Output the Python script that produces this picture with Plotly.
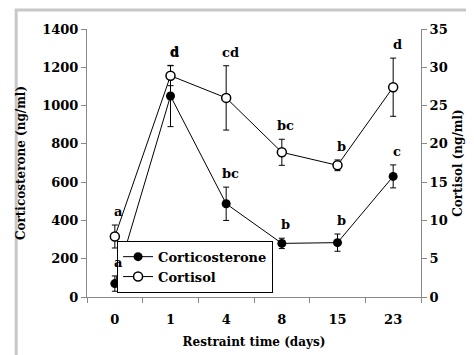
import plotly.graph_objects as go

days = ["0", "1", "4", "8", "15", "23"]
corticosterone = [70, 1050, 487, 280, 284, 630]
corticosterone_err = [40, 160, 87, 27, 45, 60]
cortisol = [7.9, 28.9, 26.0, 18.9, 17.2, 27.4]
cortisol_err = [1.5, 1.3, 4.2, 1.7, 0.7, 3.8]
corticosterone_labels = ["a", "d", "bc", "b", "b", "c"]
cortisol_labels = ["a", "d", "cd", "bc", "b", "d"]

FONT = "DejaVu Serif"
scale = 1400 / 35

fig = go.Figure()
fig.add_trace(go.Scatter(
    x=days, y=corticosterone, name="Corticosterone", mode="lines+markers",
    line=dict(color="black", width=1),
    marker=dict(symbol="circle", size=9, color="black"),
    error_y=dict(type="data", array=corticosterone_err, color="black", thickness=1, width=3),
    yaxis="y"))
fig.add_trace(go.Scatter(
    x=days, y=cortisol, name="Cortisol", mode="lines+markers",
    line=dict(color="black", width=1),
    marker=dict(symbol="circle", size=9, color="white", line=dict(color="black", width=1.5)),
    error_y=dict(type="data", array=cortisol_err, color="black", thickness=1, width=3),
    yaxis="y2"))

lab_font = dict(family=FONT, size=13, color="black", weight="bold")
annotations = []
for i, (v, e, lab) in enumerate(zip(corticosterone, corticosterone_err, corticosterone_labels)):
    annotations.append(dict(x=i, y=v + e, xref="x", yref="y", text=lab,
                            showarrow=False, yanchor="bottom", yshift=4, xshift=4,
                            font=lab_font))
for i, (v, e, lab) in enumerate(zip(cortisol, cortisol_err, cortisol_labels)):
    annotations.append(dict(x=i, y=(v + e) * scale, xref="x", yref="y", text=lab,
                            showarrow=False, yanchor="bottom", yshift=4, xshift=4,
                            font=lab_font))

axis_common = dict(showline=True, linecolor="#888888", linewidth=1, ticks="outside",
                   tickcolor="#888888", ticklen=5, showgrid=False, zeroline=False,
                   tickfont=dict(family=FONT, size=13, color="black", weight="bold"))
title_font = dict(family=FONT, size=12, color="black", weight="bold")

fig.update_layout(
    width=474, height=355,
    margin=dict(l=74, r=61, t=21, b=66),
    paper_bgcolor="white", plot_bgcolor="white",
    showlegend=True,
    legend=dict(x=0.09, y=0.21, xanchor="left", yanchor="top",
                bordercolor="black", borderwidth=1, bgcolor="white",
                font=dict(family=FONT, size=13, color="black", weight="bold"),
                itemwidth=30, tracegroupgap=0),
    xaxis=dict(**axis_common, type="category", range=[-0.5, 5.5], tickson="boundaries",
               ticklabelstandoff=10,
               title=dict(text="Restraint time (days)", font=title_font, standoff=12)),
    yaxis=dict(**axis_common, range=[0, 1400], dtick=200,
               title=dict(text="Corticosterone (ng/ml)", font=title_font, standoff=14)),
    yaxis2=dict(**axis_common, range=[0, 35], dtick=5, overlaying="y", side="right",
                title=dict(text="Cortisol (ng/ml)", font=title_font, standoff=6)),
    annotations=annotations,
    shapes=[dict(type="rect", xref="paper", yref="paper",
                 x0=-0.212, x1=1.171, y0=-0.235, y1=1.071,
                 line=dict(color="#c8c8c8", width=3), layer="below")],
)

fig.write_html("out.html")
